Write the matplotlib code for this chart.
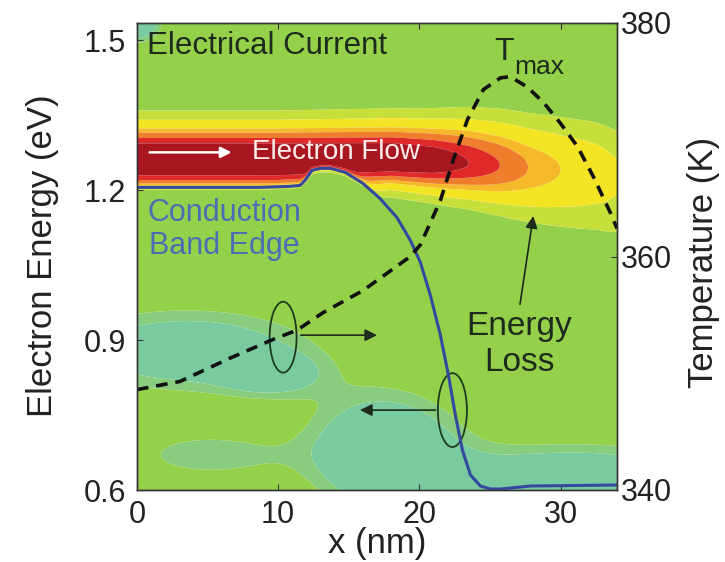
import numpy as np
import matplotlib.pyplot as plt
from matplotlib.patches import Ellipse

plt.rcParams['font.family'] = ['Liberation Sans', 'DejaVu Sans']

# conduction band edge: position (nm), energy (eV)
band_x = [0.0, 8.7, 10.85, 11.56, 11.9, 12.4, 13.0, 13.7, 14.75, 16.0, 17.2, 18.4,
          19.36, 20.07, 20.78, 21.49, 22.06, 22.55, 23.05, 23.62, 24.33, 25.04, 25.74, 27.87, 34.0]
band_e = [1.206, 1.206, 1.208, 1.21, 1.22, 1.24, 1.244, 1.244, 1.236, 1.214, 1.184, 1.146,
          1.10, 1.056, 0.99, 0.91, 0.83, 0.75, 0.68, 0.63, 0.608, 0.602, 0.602, 0.608, 0.61]

# lattice temperature along the channel (nm, K)
temp_x = [0.0, 3.05, 6.6, 9.65, 11.35, 13.19, 16.03, 19.36, 20.07, 21.49, 22.41, 23.40,
          24.54, 25.74, 26.45, 27.66, 28.79, 30.0, 31.21, 32.34, 33.55, 34.0]
temp_k = [348.6, 349.3, 351.3, 352.9, 353.7, 355.2, 357.1, 360.0, 361.0, 364.8, 368.3, 371.7,
          374.3, 375.3, 375.4, 374.5, 373.2, 371.4, 369.4, 366.8, 363.7, 362.4]

# current spectrum: peak level, centre energy and spread at stations along x
cur_x = [0, 10, 18, 21, 23.5, 25.7, 27.7, 30, 32.5, 34]
cur_peak = [1.07, 1.07, 1.06, 1.00, 0.88, 0.76, 0.64, 0.55, 0.48, 0.42]
cur_center = [1.262, 1.262, 1.262, 1.258, 1.254, 1.25, 1.246, 1.242, 1.238, 1.232]
cur_s_up = [0.045, 0.045, 0.047, 0.05, 0.055, 0.058, 0.06, 0.062, 0.064, 0.064]
cur_s_down = [0.045, 0.045, 0.035, 0.04, 0.045, 0.052, 0.06, 0.068, 0.076, 0.085]
cur_floor = 0.22

# low-current pockets: x, E, spread x, spread E, depth
pocket_x = [3.5, 9.5, 17.5, 31.0, 5.0, 0.0]
pocket_e = [0.88, 0.83, 0.68, 0.61, 0.67, 1.54]
pocket_sx = [6.5, 2.5, 3.8, 7.0, 4.0, 1.2]
pocket_se = [0.06, 0.03, 0.08, 0.055, 0.035, 0.03]
pocket_depth = [0.12, 0.08, 0.15, 0.15, 0.07, 0.15]

levels = [-1, 0.145, 0.17, 0.30, 0.40, 0.55, 0.64, 0.76, 0.88, 2]
colors = ['#7acaa0', '#88cd7d', '#95d04b', '#c6df3a', '#f3e424', '#f6b92a',
          '#ee7e2b', '#e02a2a', '#a8171f']

# build current map
xg = np.linspace(0, 34, 341)
eg = np.linspace(0.6, 1.54, 471)
X, E = np.meshgrid(xg, eg)
amp = np.interp(X, cur_x, cur_peak) - cur_floor
ec = np.interp(X, cur_x, cur_center)
s = np.where(E > ec, np.interp(X, cur_x, cur_s_up), np.interp(X, cur_x, cur_s_down))
eb = np.interp(X, band_x, band_e)
cut = 1.0 / (1.0 + np.exp(-(E - eb) / 0.004))
Z = cur_floor + amp * np.exp(-0.5 * ((E - ec) / s) ** 2) * cut
for px, pe, sx, se, d in zip(pocket_x, pocket_e, pocket_sx, pocket_se, pocket_depth):
    Z -= d * np.exp(-0.5 * (((X - px) / sx) ** 2 + ((E - pe) / se) ** 2))

fig = plt.figure(figsize=(7.25, 5.62), dpi=100)
ax = fig.add_axes([137/725, 72/562, 480/725, 467/562])
ax.contourf(X, E, Z, levels=levels, colors=colors, antialiased=True)
ax.plot(band_x, band_e, color='#3548a0', lw=2.2)
ax.set_xlim(0, 34)
ax.set_ylim(0.6, 1.535)
ax.set_xticks([0, 10, 20, 30])
ax.set_yticks([0.6, 0.9, 1.2, 1.5])
ax.set_yticklabels(['0.6', '0.9', '1.2', '1.5'])
ax.tick_params(direction='in', length=4, width=0.8, labelsize=22, top=True, pad=7,
               colors='#333333', labelcolor='#222222')
ax.tick_params(axis='y', pad=8)

ax2 = ax.twinx()
ax2.plot(temp_x, temp_k, color='#111111', lw=2.6, ls=(0, (3.2, 2.2)))
ax2.set_ylim(340, 380)
ax2.set_yticks([340, 360, 380])
ax2.tick_params(direction='in', length=4, width=0.8, labelsize=22, pad=3,
                colors='#333333', labelcolor='#222222')
for a in (ax, ax2):
    for sp in a.spines.values():
        sp.set_color('#333333')
        sp.set_linewidth(1.0)

# labels and annotations
ax.text(0.7, 1.488, 'Electrical Current', fontsize=22.5, color='#1c2b1c', va='center')
ax.text(26.0, 1.476, 'T', fontsize=23, color='#1c2b1c', ha='center', va='center')
ax.text(26.7, 1.446, 'max', fontsize=19, color='#1c2b1c', ha='left', va='center')
ax.annotate('', xy=(6.9, 1.276), xytext=(0.7, 1.276),
            arrowprops=dict(arrowstyle='-|>', color='white', lw=1.8,
                            mutation_scale=16))
ax.text(8.15, 1.276, 'Electron Flow', fontsize=20, color='#fbecec', va='center')
ax.text(0.75, 1.122, 'Conduction\nBand Edge', fontsize=22, color='#4a6db3',
        va='center', ha='left', multialignment='center', linespacing=1.15)
ax.text(27.1, 0.892, 'Energy\nLoss', fontsize=24, color='#1c2b1c',
        ha='center', va='center', linespacing=1.2)
ax.annotate('', xy=(28.1, 1.154), xytext=(27.1, 0.966),
            arrowprops=dict(arrowstyle='-|>', color='#1c2b1c', lw=1.2, mutation_scale=18))
ax.add_patch(Ellipse((10.35, 0.906), 1.91, 0.142, fill=False, ec='#1f3a1f', lw=1.3))
ax.annotate('', xy=(17.2, 0.91), xytext=(11.4, 0.91),
            arrowprops=dict(arrowstyle='-|>', color='#1c2b1c', lw=1.2, mutation_scale=18))
ax.add_patch(Ellipse((22.34, 0.76), 2.06, 0.148, fill=False, ec='#1f3a1f', lw=1.3))
ax.annotate('', xy=(15.6, 0.76), xytext=(21.35, 0.76),
            arrowprops=dict(arrowstyle='-|>', color='#1c2b1c', lw=1.2, mutation_scale=18))

fig.text(43/725, 1 - 256/562, 'Electron Energy (eV)', rotation=90, fontsize=25,
         ha='center', va='center', color='#222222')
fig.text(704/725, 1 - 262/562, 'Temperature (K)', rotation=90, fontsize=25,
         ha='center', va='center', color='#222222')
fig.text(377/725, 1 - 543/562, 'x (nm)', fontsize=25, ha='center', va='center',
         color='#222222')

fig.savefig('out.png', dpi=100)
